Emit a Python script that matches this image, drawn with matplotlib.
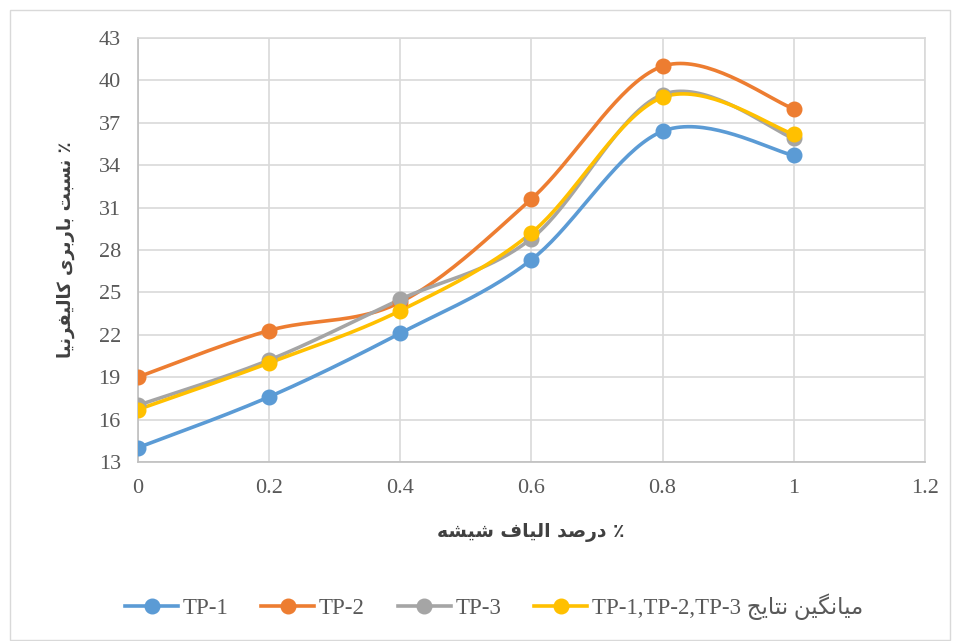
import numpy as np
import matplotlib
matplotlib.use("Agg")
import matplotlib.pyplot as plt
from matplotlib.lines import Line2D
from matplotlib.patches import Rectangle

# ---------------- data ----------------
fiber_pct = [0, 0.2, 0.4, 0.6, 0.8, 1.0]
tp1 = [14.0, 17.6, 22.1, 27.3, 36.4, 34.7]
tp2 = [19.0, 22.3, 24.3, 31.6, 41.0, 38.0]
tp3 = [17.0, 20.2, 24.5, 28.8, 39.0, 35.9]
avg = [16.7, 20.0, 23.7, 29.2, 38.8, 36.2]
series_names = ["TP-1", "TP-2", "TP-3", "میانگین نتایج"]
avg_suffix = "TP-1,TP-2,TP-3"
xlabel_text = "٪ درصد الیاف شیشه"
ylabel_text = "٪ نسبت باربری کالیفرنیا"
yticks = [13, 16, 19, 22, 25, 28, 31, 34, 37, 40, 43]
xticks = [0, 0.2, 0.4, 0.6, 0.8, 1.0, 1.2]
xtick_labels = ["0", "0.2", "0.4", "0.6", "0.8", "1", "1.2"]

# ---------------- minimal Arabic/Persian shaping ----------------
FORMS = {
    '\u0627': ('\uFE8D', '\uFE8E', None, None),
    '\u0628': ('\uFE8F', '\uFE90', '\uFE91', '\uFE92'),
    '\u062A': ('\uFE95', '\uFE96', '\uFE97', '\uFE98'),
    '\u062C': ('\uFE9D', '\uFE9E', '\uFE9F', '\uFEA0'),
    '\u062F': ('\uFEA9', '\uFEAA', None, None),
    '\u0631': ('\uFEAD', '\uFEAE', None, None),
    '\u0633': ('\uFEB1', '\uFEB2', '\uFEB3', '\uFEB4'),
    '\u0634': ('\uFEB5', '\uFEB6', '\uFEB7', '\uFEB8'),
    '\u0635': ('\uFEB9', '\uFEBA', '\uFEBB', '\uFEBC'),
    '\u0641': ('\uFED1', '\uFED2', '\uFED3', '\uFED4'),
    '\u0644': ('\uFEDD', '\uFEDE', '\uFEDF', '\uFEE0'),
    '\u0645': ('\uFEE1', '\uFEE2', '\uFEE3', '\uFEE4'),
    '\u0646': ('\uFEE5', '\uFEE6', '\uFEE7', '\uFEE8'),
    '\u0647': ('\uFEE9', '\uFEEA', '\uFEEB', '\uFEEC'),
    '\u06CC': ('\uFBFC', '\uFBFD', '\uFBFE', '\uFBFF'),
    '\u06A9': ('\uFB8E', '\uFB8F', '\uFB90', '\uFB91'),
    '\u06AF': ('\uFB92', '\uFB93', '\uFB94', '\uFB95'),
}


def shape_rtl(s):
    out = []
    for i, c in enumerate(s):
        if c not in FORMS:
            out.append(c)
            continue
        prev = s[i - 1] if i > 0 else None
        nxt = s[i + 1] if i + 1 < len(s) else None
        jp = prev in FORMS and FORMS[prev][2] is not None
        jn = nxt in FORMS and FORMS[c][2] is not None
        iso, fin, ini, med = FORMS[c]
        if jp and jn:
            out.append(med)
        elif jp:
            out.append(fin)
        elif jn:
            out.append(ini)
        else:
            out.append(iso)
    return ''.join(reversed(out))


def smooth(xs, ys, n=40):
    P = np.column_stack([xs, ys]).astype(float)
    m = len(P)
    rx, ry = [], []
    for i in range(m - 1):
        p0 = P[i - 1] if i > 0 else P[i]
        p1 = P[i]
        p2 = P[i + 1]
        p3 = P[i + 2] if i + 2 < m else P[i + 1]
        c1 = p1 + (p2 - p0) / 6.0
        c2 = p2 - (p3 - p1) / 6.0
        t = np.linspace(0, 1, n)[:, None]
        b = ((1 - t) ** 3) * p1 + 3 * ((1 - t) ** 2) * t * c1 + 3 * (1 - t) * t ** 2 * c2 + t ** 3 * p2
        rx.extend(b[:, 0]); ry.extend(b[:, 1])
    return rx, ry


SERIF = ['Liberation Serif', 'DejaVu Sans']
ARFONT = ['DejaVu Sans']
TICK_COLOR = '#595959'
GRID = '#D9D9D9'

fig = plt.figure(figsize=(9.57, 6.41), dpi=100)
fig.patches.append(Rectangle((10 / 957, 1 / 641), 940 / 957, 630 / 641, transform=fig.transFigure,
                             fill=False, edgecolor='#D9D9D9', linewidth=1))
ax = fig.add_axes([137.5 / 957, 1 - 462 / 641, (925 - 137.5) / 957, (462 - 38) / 641])

colors = ['#5B9BD5', '#ED7D31', '#A5A5A5', '#FFC000']
data = [tp1, tp2, tp3, avg]
handles = []
for ys, col in zip(data, colors):
    sx, sy = smooth(fiber_pct, ys)
    ax.plot(sx, sy, color=col, linewidth=2.6, solid_capstyle='round', zorder=3)
    ax.plot(fiber_pct, ys, linestyle='none', marker='o', markersize=10.5, color=col, zorder=4)
    handles.append(Line2D([0], [0], color=col, linewidth=2.6, marker='o', markersize=10.5))

ax.set_xlim(0, 1.2)
ax.set_ylim(13, 43)
ax.set_xticks(xticks)
ax.set_xticklabels(xtick_labels)
ax.set_yticks(yticks)
ax.grid(True, color=GRID, linewidth=1.2)
ax.set_axisbelow(True)
for sp in ax.spines.values():
    sp.set_color(GRID)
    sp.set_linewidth(1.2)
ax.spines['left'].set_color('#BFBFBF')
ax.spines['bottom'].set_color('#BFBFBF')
ax.tick_params(length=0, labelsize=16, labelcolor=TICK_COLOR, pad=12)
for lab in ax.get_xticklabels() + ax.get_yticklabels():
    lab.set_family(SERIF)

fig.text(531 / 957, 1 - 533 / 641, shape_rtl(xlabel_text), ha='center', va='center',
         fontsize=13.5, fontweight='bold', color='#404040', family=ARFONT)
fig.text(66 / 957, 1 - 250 / 641, shape_rtl(ylabel_text), ha='center', va='center', rotation=90,
         fontsize=13, fontweight='bold', color='#404040', family=ARFONT)

labels = [series_names[0], series_names[1], series_names[2],
          avg_suffix + ' ' + shape_rtl(series_names[3])]
leg = fig.legend(handles, labels, loc='center', bbox_to_anchor=(494 / 957, 1 - 607 / 641), ncol=4,
                 frameon=False, prop={'family': SERIF, 'size': 16.5}, handlelength=2.3,
                 columnspacing=1.45, handletextpad=0.2)
for t in leg.get_texts():
    t.set_color(TICK_COLOR)

fig.savefig('out.png', dpi=100)
